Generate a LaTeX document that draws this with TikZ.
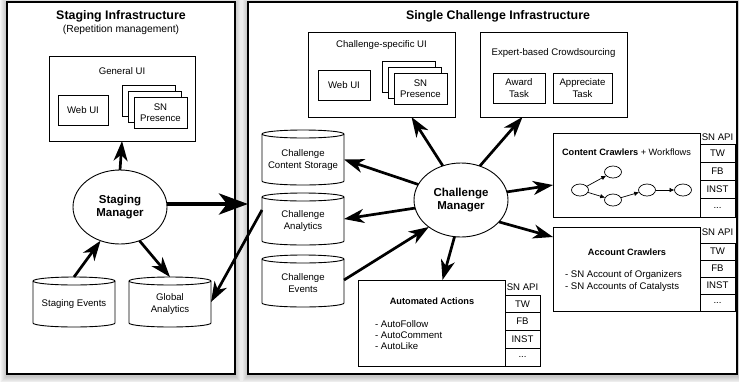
\documentclass[tikz,border=0pt]{standalone}
\usepackage{fontspec}
\setmainfont{Liberation Sans}
\usetikzlibrary{arrows.meta,shapes.geometric}

% cylinder outline drawn around a named (invisible) node
\newcommand\dbcyl[1]{%
  \draw[line width=0.9pt] ([yshift=-4pt]#1.north west) -- ([yshift=4pt]#1.south west)
    arc[start angle=180, end angle=360, x radius=41pt, y radius=4pt]
    -- ([yshift=-4pt]#1.north east)
    arc[start angle=0, end angle=180, x radius=41pt, y radius=4pt] -- cycle;
  \draw[line width=0.9pt] ([yshift=-4pt]#1.north east)
    arc[start angle=0, end angle=-180, x radius=41pt, y radius=4pt];
}
% soft shadow behind a frame given by its corners
\newcommand\softshadow[4]{%
  \foreach \d in {1,...,7}
    \fill[black, opacity=0.035] (#1-\d, -#2+\d-1.5) rectangle (#3+\d, -#4-\d-1.5);
}

\begin{document}
\begin{tikzpicture}[x=1pt, y=1pt,
  every node/.style={inner sep=0pt, outer sep=0pt, align=center,
    font=\fontsize{9.6}{11.5}\selectfont},
  panel/.style={draw, line width=1.2pt, fill=white, rectangle},
  group/.style={draw, line width=0.9pt, fill=white, rectangle},
  inbox/.style={draw, line width=0.8pt, fill=white, rectangle, minimum height=30},
  dbnode/.style={rectangle, minimum width=82},
  manager/.style={draw, ellipse, line width=0.9pt, fill=white,
    minimum width=94, minimum height=74,
    font=\fontsize{11.5}{13}\selectfont\bfseries},
  title/.style={font=\fontsize{12.4}{14}\selectfont\bfseries},
  boxtitle/.style={font=\fontsize{9.2}{11}\selectfont\bfseries},
  cell/.style={draw, line width=0.8pt, fill=white, rectangle, minimum width=35},
  wf/.style={draw, ellipse, line width=0.7pt, minimum width=17, minimum height=12},
  arr/.style={line width=2.7pt, -{Stealth[length=20pt, width=14pt, inset=6pt]}},
  bigarr/.style={line width=4.5pt, -{Stealth[length=29pt, width=21pt, inset=8pt]}},
  wfarr/.style={line width=0.7pt, -{Latex[length=5pt, width=4.5pt]}}
]
\useasboundingbox (0,0) rectangle (739,-381);

% ---------- frames ----------
\softshadow{7}{2}{235}{374}
\softshadow{248}{2}{737}{374}
\node[panel, minimum width=228, minimum height=372] (stagpanel) at (121,-188) {};
\node[panel, minimum width=489, minimum height=372] (chpanel) at (492.5,-188) {};

% ---------- staging infrastructure ----------
\node[title] (stagtitle) at (121,-16) {Staging Infrastructure};
\node[font=\fontsize{10.3}{12}\selectfont] (stagsub) at (121,-30) {(Repetition management)};

\node[group, minimum width=146, minimum height=85] (genui) at (122,-98.5) {};
\node (genuilbl) at (122,-71) {General UI};
\node[inbox, minimum width=50] (gweb) at (83,-110) {Web UI};
\node[inbox, minimum width=53, minimum height=31] (gsn3) at (149,-101) {};
\node[inbox, minimum width=53, minimum height=31] (gsn2) at (154.5,-106.5) {};
\node[inbox, minimum width=53, minimum height=31] (gsn1) at (160.5,-112.5) {SN\\Presence};

\node[manager] (smgr) at (120,-207) {Staging\\Manager};

\node[dbnode, minimum height=50] (sevents) at (74,-302) {};
\dbcyl{sevents}
\node (seventslbl) at (74,-304) {Staging Events};
\node[dbnode, minimum height=50] (ganal) at (170,-302) {};
\dbcyl{ganal}
\node (ganallbl) at (170,-304) {Global\\Analytics};

% ---------- single challenge infrastructure ----------
\node[title] (chtitle) at (498,-16) {Single Challenge Infrastructure};

\node[group, minimum width=147, minimum height=85] (chui) at (381.5,-74.5) {};
\node (chuilbl) at (381.5,-45) {Challenge-specific UI};
\node[inbox, minimum width=52] (cweb) at (344,-85) {Web UI};
\node[inbox, minimum width=53, minimum height=31] (csn3) at (408.5,-76.5) {};
\node[inbox, minimum width=53, minimum height=31] (csn2) at (414.5,-82.5) {};
\node[inbox, minimum width=53, minimum height=31] (csn1) at (420.5,-88.5) {SN\\Presence};

\node[group, minimum width=147, minimum height=85] (expert) at (553.5,-74.5) {};
\node (expertlbl) at (553.5,-53) {Expert-based Crowdsourcing};
\node[inbox, minimum width=52] (award) at (519,-88) {Award\\Task};
\node[inbox, minimum width=59] (appr) at (582.5,-88) {Appreciate\\Task};

\node[dbnode, minimum height=55] (cstore) at (303,-157.5) {};
\dbcyl{cstore}
\node (cstorelbl) at (303,-160) {Challenge\\Content Storage};
\node[dbnode, minimum height=52] (canal) at (303,-219) {};
\dbcyl{canal}
\node (canallbl) at (303,-221) {Challenge\\Analytics};
\node[dbnode, minimum height=52] (cevents) at (303,-281) {};
\dbcyl{cevents}
\node (ceventslbl) at (303,-283) {Challenge\\Events};

\node[manager] (cmgr) at (461,-200) {Challenge\\Manager};

% automated actions
\node[group, minimum width=147, minimum height=86] (auto) at (431.5,-323) {};
\node[boxtitle] (autotitle) at (432,-301) {Automated Actions};
\node[anchor=west, align=left, font=\fontsize{9.6}{11}\selectfont] (autolist) at (375,-335)
  {- AutoFollow\\- AutoComment\\- AutoLike};
\node (aapi) at (522.5,-287) {SN API};
\node[cell, minimum height=17.75] (atw) at (522.5,-303.9) {TW};
\node[cell, minimum height=17.75] (afb) at (522.5,-321.6) {FB};
\node[cell, minimum height=17.75] (ainst) at (522.5,-339.4) {INST};
\node[cell, minimum height=17.75] (adots) at (522.5,-357.1) {...};

% content crawlers
\node[group, minimum width=147, minimum height=84] (ccrawl) at (626.5,-175) {};
\node (ccrawltitle) at (626.5,-152) {\fontsize{9.2}{11}\selectfont\bfseries Content Crawlers\mdseries{} + Workflows};
\node[wf] (w1) at (580,-190) {};
\node[wf] (w2) at (613,-172) {};
\node[wf] (w3) at (613,-200) {};
\node[wf] (w4) at (647,-190) {};
\node[wf] (w5) at (683,-190) {};
\draw[wfarr] (w1) -- (w2);
\draw[wfarr] (w1) -- (w3);
\draw[wfarr] (w3) -- (w4);
\draw[wfarr] (w4) -- (w5);
\node (capi) at (717.5,-137) {SN API};
\node[cell, minimum height=18.25] (ctw) at (717.5,-153.1) {TW};
\node[cell, minimum height=18.25] (cfb) at (717.5,-171.4) {FB};
\node[cell, minimum height=18.25] (cinst) at (717.5,-189.6) {INST};
\node[cell, minimum height=18.25] (cdots) at (717.5,-207.9) {...};

% account crawlers
\node[group, minimum width=147, minimum height=84] (acrawl) at (626.5,-269) {};
\node[boxtitle] (acrawltitle) at (627,-252) {Account Crawlers};
\node[anchor=west, align=left, font=\fontsize{9.6}{12}\selectfont] (acrawllist) at (565,-281)
  {- SN Account of Organizers\\- SN Accounts of Catalysts};
\node (acapi) at (717.5,-232) {SN API};
\node[cell, minimum height=17] (actw) at (717.5,-251.5) {TW};
\node[cell, minimum height=17] (acfb) at (717.5,-268.5) {FB};
\node[cell, minimum height=17] (acinst) at (717.5,-285.5) {INST};
\node[cell, minimum height=17] (acdots) at (717.5,-302.5) {...};

% ---------- connectors ----------
\draw[arr] (smgr.north) -- (genui.south);
\draw[arr] (sevents.north) -- (smgr.240);
\draw[arr] (smgr.-60) -- (ganal.north);
\draw[bigarr] ([yshift=3pt]smgr.east) -- ([yshift=3pt]chpanel.west |- smgr.east);
\draw[arr] ([yshift=9pt]canal.west) -- (ganal.east);

\draw[arr] (cmgr.118) -- ([xshift=30pt]chui.south);
\draw[arr] (cmgr.61) -- ([xshift=-31pt]expert.south);
\draw[arr] (cmgr.160) -- ([yshift=-2pt]cstore.east);
\draw[arr] (cmgr.190) -- (canal.east);
\draw[arr] ([yshift=1pt]cevents.east) -- (cmgr.220);
\draw[arr] (cmgr.260) -- ([xshift=11pt]auto.north);
\draw[arr] (cmgr.10) -- ([yshift=-10pt]ccrawl.west);
\draw[arr] (cmgr.-30) -- ([yshift=-10pt]acrawl.north west);
\end{tikzpicture}
\end{document}
